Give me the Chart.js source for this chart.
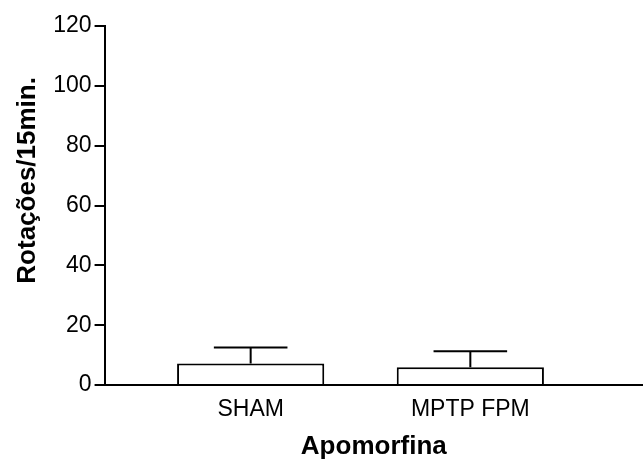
<!DOCTYPE html>
<html>
<head>
<meta charset="utf-8">
<script src="https://cdn.jsdelivr.net/npm/chart.js@4/dist/chart.umd.min.js"></script>
<style>
  html, body { margin: 0; padding: 0; background: #fff; }
  #wrap { width: 643px; height: 460px; }
</style>
</head>
<body>
<div id="wrap"><canvas id="grafico"></canvas></div>
<script>
// dados
const categorias = ["SHAM", "MPTP FPM"];
const medias = [7.2, 5.9];
const erros = [5.3, 5.4];
const ticksY = [0, 20, 40, 60, 80, 100, 120];

const FONTE = "'Liberation Sans', Arial, sans-serif";
const TITULO_Y = "Rotações/15min.";

// barras de erro (só para cima)
const barrasErro = {
  id: "barrasErro",
  afterDatasetsDraw(chart) {
    const ctx = chart.ctx;
    const y = chart.scales.y;
    const meta = chart.getDatasetMeta(0);
    ctx.save();
    ctx.strokeStyle = "#000";
    ctx.lineWidth = 2;
    meta.data.forEach((bar, i) => {
      const topo = y.getPixelForValue(medias[i]);
      const cap = y.getPixelForValue(medias[i] + erros[i]);
      const meia = bar.width / 4;
      ctx.beginPath();
      ctx.moveTo(bar.x, topo);
      ctx.lineTo(bar.x, cap);
      ctx.moveTo(bar.x - meia, cap);
      ctx.lineTo(bar.x + meia, cap);
      ctx.stroke();
    });
    ctx.restore();
  }
};

// título do eixo Y um pouco acima do centro, como no original
const tituloY = {
  id: "tituloY",
  afterDraw(chart) {
    const ctx = chart.ctx;
    const area = chart.chartArea;
    ctx.save();
    ctx.translate(28, area.top + (area.bottom - area.top) * 0.43);
    ctx.rotate(-Math.PI / 2);
    ctx.font = "bold 26px " + FONTE;
    ctx.fillStyle = "#000";
    ctx.textAlign = "center";
    ctx.textBaseline = "middle";
    ctx.fillText(TITULO_Y, 0, 0);
    ctx.restore();
  }
};

new Chart(document.getElementById("grafico"), {
  type: "bar",
  data: {
    datasets: [{
      data: categorias.map((c, i) => ({ x: i + 1, y: medias[i] })),
      backgroundColor: "#fff",
      borderColor: "#000",
      borderWidth: 2,
      borderSkipped: "bottom",
      barPercentage: 0.67,
      categoryPercentage: 1
    }]
  },
  options: {
    responsive: true,
    maintainAspectRatio: false,
    animation: false,
    layout: { padding: { top: 26, right: 0, left: 12, bottom: 0 } },
    plugins: { legend: { display: false }, tooltip: { enabled: false } },
    scales: {
      x: {
        type: "linear",
        offset: false,
        min: 0.335,
        max: 2.786,
        afterBuildTicks: (s) => { s.ticks = categorias.map((c, i) => ({ value: i + 1 })); },
        ticks: {
          color: "#000",
          font: { family: FONTE, size: 23, lineHeight: 1.0 },
          padding: 13,
          maxRotation: 0,
          callback: (v) => categorias[v - 1]
        },
        grid: { display: false, drawTicks: false, offset: false },
        border: { display: true, color: "#000", width: 2 },
        title: {
          display: true,
          text: "Apomorfina",
          color: "#000",
          font: { family: FONTE, size: 26, weight: "bold", lineHeight: 1.0 },
          padding: { top: 0, bottom: 0 }
        }
      },
      y: {
        min: 0,
        max: 120,
        afterBuildTicks: (s) => { s.ticks = ticksY.map(v => ({ value: v })); },
        ticks: {
          color: "#000",
          font: { family: FONTE, size: 23 },
          padding: 3
        },
        grid: {
          drawOnChartArea: false,
          drawTicks: true,
          tickLength: 10,
          color: "#000",
          lineWidth: 2
        },
        border: { display: true, color: "#000", width: 2 },
        title: {
          // espaço reservado; o texto é desenhado pelo plugin tituloY
          display: true,
          text: TITULO_Y,
          color: "rgba(0,0,0,0)",
          font: { family: FONTE, size: 26, weight: "bold" },
          padding: { top: 0, bottom: 7 }
        }
      }
    }
  },
  plugins: [barrasErro, tituloY]
});
</script>
</body>
</html>
